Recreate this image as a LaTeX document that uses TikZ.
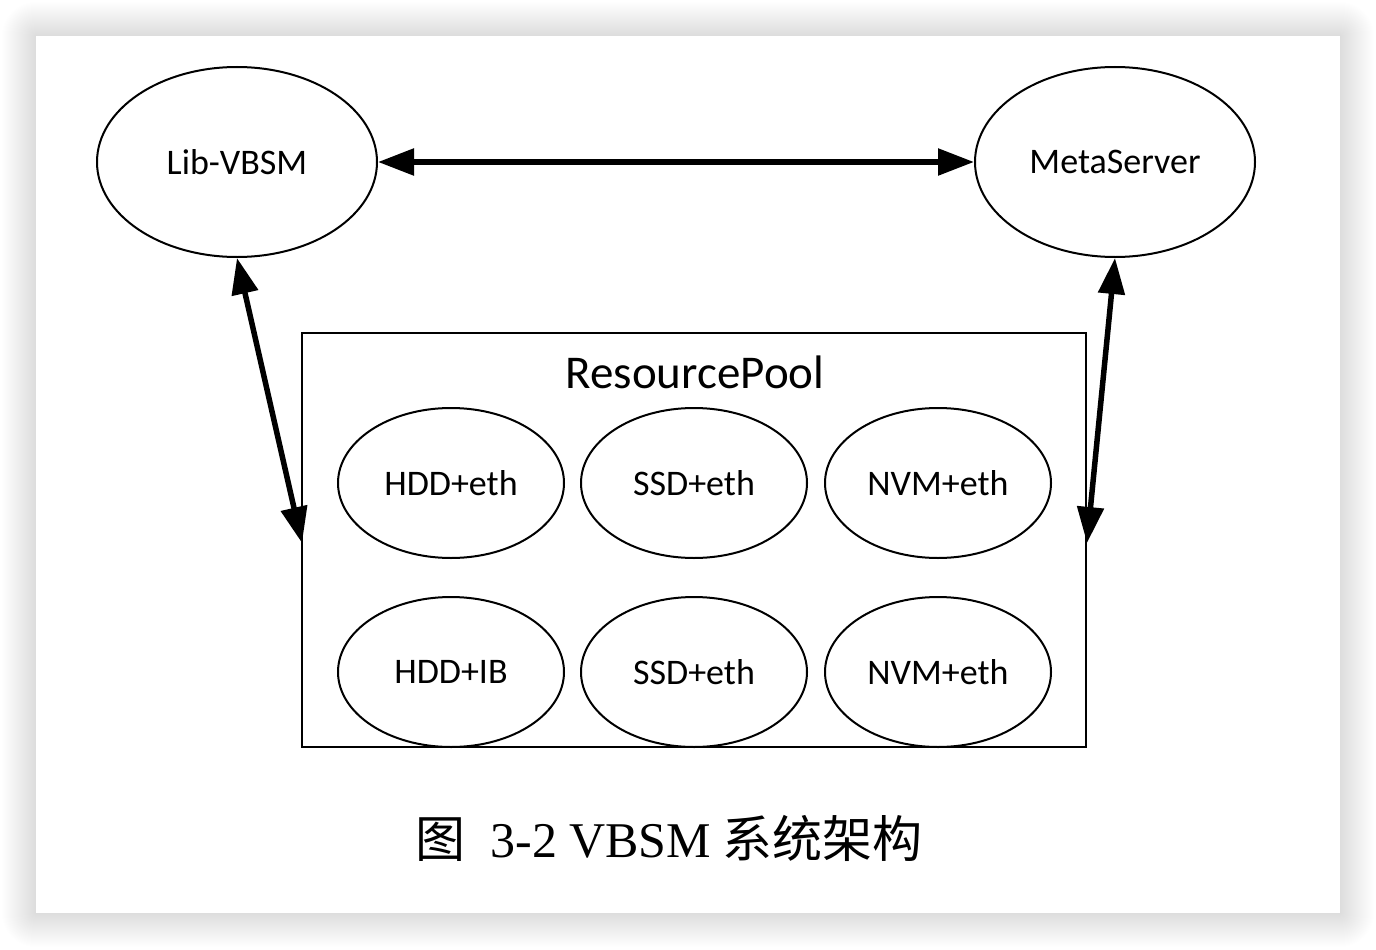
\documentclass[tikz,border=0pt]{standalone}
\usepackage{fontspec}
\setmainfont{Carlito}
\newfontfamily\cjk{Noto Sans CJK SC}
\newfontfamily\tnr{Liberation Serif}
\usetikzlibrary{arrows.meta,shapes.geometric}
\tikzset{
  bigell/.style={ellipse,draw,line width=2pt,minimum width=280pt,minimum height=190pt,inner sep=0pt,font=\fontsize{36}{40}\selectfont},
  smallell/.style={ellipse,draw,line width=2pt,minimum width=226pt,minimum height=150pt,inner sep=0pt,font=\fontsize{36}{40}\selectfont},
  link/.style={line width=5.5pt,{Triangle[length=36pt,width=26pt]}-{Triangle[length=36pt,width=26pt]},shorten <=0pt,shorten >=0pt},
  pool/.style={draw,line width=2.5pt},
}
\begin{document}
\begin{tikzpicture}[x=1pt,y=-1pt]
\useasboundingbox (0,0) rectangle (1376,950);
\fill[white] (0,0) rectangle (1376,950);
% shadow
\foreach \i in {1,...,34}{
  \fill[black,opacity=0.0055,rounded corners=\i pt] (36-\i,36-\i) rectangle (1340+\i,913+\i);
}
\fill[white] (36,36) rectangle (1340,913);
% nodes
\node[bigell] (lib) at (237,162) {Lib-VBSM};
\node[bigell] (meta) at (1115,162) {MetaServer};
\draw[pool] (302,333) rectangle (1086,747);
\node[font=\fontsize{47}{50}\selectfont] (rp) at (695,372) {ResourcePool};
\node[smallell] (a1) at (451,483) {HDD+eth};
\node[smallell] (a2) at (694,483) {SSD+eth};
\node[smallell] (a3) at (938,483) {NVM+eth};
\node[smallell] (b1) at (451,672) {HDD+IB};
\node[smallell] (b2) at (694,672) {SSD+eth};
\node[smallell] (b3) at (938,672) {NVM+eth};
\coordinate (pl) at (302,543);
\coordinate (pr) at (1087,543);
\draw[link] (lib.east) -- (meta.west);
\draw[link] (lib.south) -- (pl);
\draw[link] (meta.south) -- (pr);
\node[font=\fontsize{50}{55}\selectfont] (cap) at (669,838) {{\cjk 图}\hspace{0.5em}{\tnr 3-2 VBSM} {\cjk 系统架构}};
\end{tikzpicture}
\end{document}
